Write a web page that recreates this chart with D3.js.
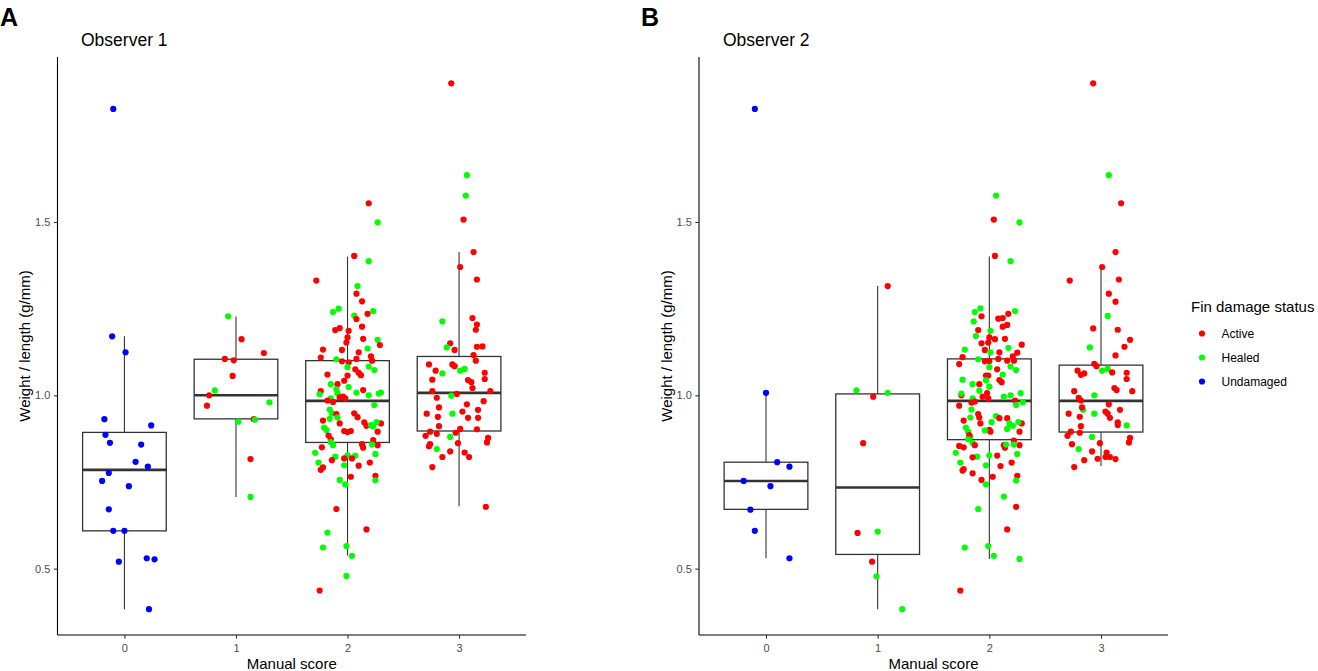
<!DOCTYPE html>
<html><head><meta charset="utf-8">
<script src="https://cdn.jsdelivr.net/npm/d3@7"></script>
<style>
html,body{margin:0;padding:0;background:#fff;}
text{font-family:"Liberation Sans",Arial,sans-serif;}
</style></head>
<body><svg id="chart" width="1318" height="671"></svg>
<script>
// ---------- data ----------
const scores = ["0","1","2","3"];
const yTicks = [0.5, 1.0, 1.5];
const statusNames = ["Active","Healed","Undamaged"];
const statusCodes = ["A","H","U"];
const statusColors = ["#FF0000","#00FF00","#0000FF"];
const panelLetters = ["A","B"];
const panelTitles = ["Observer 1","Observer 2"];
const yLabel = "Weight / length (g/mm)";
const xLabel = "Manual score";
const legendTitle = "Fin damage status";

// box statistics [score, lowerWhisker, q1, median, q3, upperWhisker]
const obs1Box = [
  [0,0.383,0.609,0.785,0.893,1.170],
  [1,0.707,0.932,1.000,1.104,1.227],
  [2,0.538,0.864,0.984,1.100,1.400],
  [3,0.680,0.897,1.007,1.112,1.413]
];
const obs2Box = [
  [0,0.530,0.671,0.753,0.807,1.007],
  [1,0.383,0.541,0.734,1.004,1.315],
  [2,0.528,0.872,0.984,1.105,1.400],
  [3,0.796,0.894,0.984,1.087,1.371]
];

// points [score, status, value, jitter (score units)]
const obs1Points = [
[0,"U",1.826,-0.10],[0,"U",1.170,-0.11],[0,"U",1.124,0.01],[0,"U",0.931,-0.18],[0,"U",0.913,0.24],
[0,"U",0.886,-0.17],[0,"U",0.863,-0.13],[0,"U",0.858,0.15],[0,"U",0.808,0.10],[0,"U",0.794,0.21],
[0,"U",0.776,-0.14],[0,"U",0.753,-0.20],[0,"U",0.738,0.04],[0,"U",0.671,-0.14],[0,"U",0.609,-0.10],
[0,"U",0.609,0.00],[0,"U",0.520,-0.05],[0,"U",0.530,0.20],[0,"U",0.527,0.27],[0,"U",0.383,0.22],
[1,"H",1.228,-0.07],[1,"A",1.162,0.05],[1,"A",1.122,0.25],[1,"A",1.105,-0.10],[1,"A",1.101,-0.02],
[1,"A",1.056,-0.03],[1,"H",1.014,-0.19],[1,"A",1.000,-0.24],[1,"A",0.970,-0.26],[1,"H",0.980,0.30],
[1,"H",0.924,0.02],[1,"A",0.931,0.16],[1,"H",0.930,0.17],[1,"A",0.816,0.13],[1,"H",0.707,0.13],
[2,"A",1.554,0.19],[2,"H",1.499,0.27],[2,"A",1.402,0.06],[2,"H",1.387,0.19],[2,"A",1.331,-0.28],
[2,"H",1.315,0.09],[2,"A",1.293,0.08],[2,"A",1.271,0.13],[2,"H",1.243,0.23],[2,"A",1.235,0.18],
[2,"H",1.240,-0.13],[2,"H",1.250,-0.08],[2,"H",1.230,0.06],[2,"A",1.220,0.08],[2,"A",1.198,0.13],
[2,"A",1.194,-0.07],[2,"A",1.188,-0.11],[2,"A",1.186,0.01],[2,"A",1.167,0.00],[2,"A",1.163,0.14],
[2,"A",1.152,-0.01],[2,"H",1.160,0.27],[2,"A",1.145,0.29],[2,"H",1.135,0.18],[2,"A",1.132,-0.22],
[2,"A",1.131,-0.05],[2,"A",1.124,0.10],[2,"A",1.109,-0.24],[2,"A",1.112,0.21],[2,"A",1.100,0.22],
[2,"A",1.105,0.08],[2,"H",1.104,-0.10],[2,"A",1.095,0.01],[2,"A",1.098,-0.05],[2,"H",1.081,0.00],
[2,"H",1.083,0.19],[2,"H",1.073,0.24],[2,"A",1.075,0.07],[2,"A",1.065,0.10],[2,"A",1.058,0.12],
[2,"A",1.060,-0.18],[2,"A",1.057,0.00],[2,"A",1.042,-0.03],[2,"H",1.032,-0.15],[2,"A",1.032,-0.09],
[2,"H",1.024,0.01],[2,"A",1.012,-0.24],[2,"H",1.003,-0.25],[2,"H",1.017,-0.10],[2,"H",1.006,-0.09],
[2,"A",1.015,0.14],[2,"H",1.008,0.08],[2,"H",1.000,0.19],[2,"H",1.005,0.28],[2,"H",1.008,0.30],
[2,"A",0.994,-0.07],[2,"A",0.996,-0.04],[2,"A",0.991,-0.02],[2,"H",0.991,-0.15],[2,"A",0.985,-0.18],
[2,"A",0.981,-0.13],[2,"H",0.972,0.24],[2,"H",0.959,-0.16],[2,"H",0.948,-0.14],[2,"A",0.946,-0.10],
[2,"A",0.948,0.06],[2,"A",0.937,0.09],[2,"A",0.927,-0.22],[2,"H",0.932,-0.16],[2,"H",0.936,-0.09],
[2,"A",0.919,-0.07],[2,"A",0.922,0.15],[2,"A",0.912,0.17],[2,"H",0.914,0.21],[2,"H",0.910,0.23],
[2,"A",0.919,0.30],[2,"H",0.923,0.26],[2,"H",0.907,-0.21],[2,"H",0.900,-0.19],[2,"A",0.897,-0.03],
[2,"A",0.894,0.00],[2,"A",0.897,0.03],[2,"A",0.895,0.27],[2,"A",0.884,-0.17],[2,"A",0.873,-0.15],
[2,"H",0.865,-0.15],[2,"H",0.856,-0.13],[2,"A",0.871,0.23],[2,"A",0.856,0.27],[2,"A",0.859,0.13],
[2,"A",0.849,0.14],[2,"H",0.858,0.22],[2,"A",0.850,-0.23],[2,"H",0.834,-0.29],[2,"H",0.827,0.00],
[2,"H",0.826,0.07],[2,"H",0.823,-0.11],[2,"A",0.818,-0.03],[2,"A",0.818,0.04],[2,"A",0.813,-0.14],
[2,"H",0.831,0.25],[2,"H",0.806,-0.26],[2,"H",0.798,-0.03],[2,"A",0.797,0.10],[2,"A",0.806,0.20],
[2,"A",0.792,-0.22],[2,"A",0.785,-0.24],[2,"A",0.765,0.03],[2,"A",0.768,0.25],[2,"H",0.755,0.25],
[2,"H",0.756,-0.07],[2,"H",0.743,-0.02],[2,"A",0.672,-0.10],[2,"A",0.613,0.17],[2,"H",0.604,-0.18],
[2,"H",0.561,-0.22],[2,"H",0.565,-0.01],[2,"H",0.537,0.04],[2,"H",0.479,-0.01],[2,"A",0.437,-0.25],
[3,"A",1.900,-0.07],[3,"H",1.635,0.07],[3,"H",1.576,0.06],[3,"A",1.507,0.04],[3,"A",1.413,0.13],
[3,"A",1.370,0.01],[3,"A",1.334,0.16],[3,"H",1.213,-0.15],[3,"A",1.223,0.12],[3,"A",1.204,0.16],
[3,"A",1.189,0.15],[3,"A",1.150,-0.08],[3,"H",1.138,-0.11],[3,"A",1.131,-0.04],[3,"A",1.140,0.16],
[3,"A",1.141,0.21],[3,"A",1.116,0.13],[3,"A",1.100,0.15],[3,"A",1.089,-0.27],[3,"A",1.089,-0.06],
[3,"A",1.084,-0.04],[3,"A",1.071,-0.21],[3,"H",1.063,-0.15],[3,"H",1.071,0.01],[3,"H",1.076,0.05],
[3,"A",1.065,0.23],[3,"A",1.047,0.23],[3,"A",1.045,-0.24],[3,"A",1.044,0.08],[3,"A",1.038,0.11],
[3,"A",1.021,0.12],[3,"A",1.012,-0.24],[3,"A",1.004,-0.02],[3,"A",1.012,0.28],[3,"H",0.999,-0.07],
[3,"A",0.993,-0.20],[3,"A",0.983,0.22],[3,"A",0.974,0.07],[3,"A",0.965,-0.18],[3,"A",0.958,0.17],
[3,"A",0.953,0.03],[3,"A",0.947,-0.29],[3,"H",0.947,-0.06],[3,"A",0.938,-0.19],[3,"A",0.935,0.08],
[3,"A",0.935,0.17],[3,"A",0.911,-0.18],[3,"A",0.903,0.01],[3,"A",0.902,0.16],[3,"A",0.895,-0.26],
[3,"A",0.889,-0.20],[3,"A",0.892,-0.03],[3,"A",0.883,-0.30],[3,"H",0.880,-0.08],[3,"A",0.877,0.26],
[3,"A",0.864,0.25],[3,"A",0.862,-0.01],[3,"A",0.859,-0.26],[3,"A",0.853,-0.27],[3,"H",0.845,-0.20],
[3,"A",0.838,-0.08],[3,"A",0.835,0.05],[3,"A",0.822,-0.15],[3,"A",0.822,0.09],[3,"A",0.793,-0.24],
[3,"A",0.678,0.24]
];

const obs2Points = [
[0,"U",1.826,-0.10],[0,"U",1.007,0.00],[0,"U",0.807,0.10],[0,"U",0.794,0.21],[0,"U",0.753,-0.20],
[0,"U",0.738,0.04],[0,"U",0.670,-0.14],[0,"U",0.609,-0.10],[0,"U",0.530,0.21],
[1,"A",1.315,0.09],[1,"H",1.014,-0.19],[1,"H",1.007,0.09],[1,"A",0.996,-0.04],[1,"A",0.862,-0.13],
[1,"A",0.603,-0.18],[1,"H",0.607,0.00],[1,"A",0.520,-0.05],[1,"H",0.478,-0.01],[1,"H",0.383,0.22],
[2,"H",1.576,0.06],[2,"A",1.507,0.04],[2,"H",1.499,0.27],[2,"A",1.402,0.05],[2,"H",1.387,0.19],
[2,"H",1.251,-0.08],[2,"H",1.240,-0.13],[2,"A",1.228,-0.07],[2,"H",1.243,0.23],[2,"A",1.235,0.17],
[2,"H",1.213,-0.14],[2,"A",1.221,0.08],[2,"A",1.223,0.12],[2,"A",1.203,0.16],[2,"A",1.198,0.12],
[2,"A",1.188,-0.10],[2,"H",1.186,0.01],[2,"A",1.167,0.00],[2,"H",1.171,-0.12],[2,"A",1.162,0.05],
[2,"A",1.163,0.14],[2,"A",1.150,-0.07],[2,"A",1.152,-0.01],[2,"A",1.146,0.29],[2,"H",1.137,0.17],
[2,"H",1.132,-0.22],[2,"A",1.131,-0.04],[2,"A",1.124,0.09],[2,"H",1.124,0.01],[2,"A",1.123,0.25],
[2,"A",1.110,-0.24],[2,"A",1.112,0.21],[2,"A",1.100,0.22],[2,"H",1.104,-0.10],[2,"A",1.098,-0.04],
[2,"A",1.099,0.00],[2,"A",1.105,0.08],[2,"A",1.100,0.16],[2,"A",1.090,-0.27],[2,"H",1.081,0.00],
[2,"H",1.083,0.19],[2,"H",1.073,0.24],[2,"A",1.075,0.07],[2,"A",1.057,-0.01],[2,"A",1.057,-0.03],
[2,"H",1.060,0.12],[2,"A",1.044,0.09],[2,"A",1.038,0.11],[2,"H",1.045,-0.24],[2,"H",1.043,-0.03],
[2,"A",1.032,-0.09],[2,"H",1.032,-0.15],[2,"H",1.025,0.00],[2,"H",1.013,-0.09],[2,"A",1.000,-0.25],
[2,"H",1.005,-0.25],[2,"A",1.006,-0.02],[2,"A",0.996,-0.06],[2,"A",0.991,-0.01],[2,"H",0.991,-0.15],
[2,"A",0.982,-0.13],[2,"A",0.979,-0.16],[2,"H",0.996,0.13],[2,"H",1.000,0.19],[2,"H",1.006,0.28],
[2,"H",0.980,0.30],[2,"A",0.985,0.23],[2,"H",0.972,0.24],[2,"A",0.970,-0.27],[2,"H",0.959,-0.16],
[2,"A",0.946,-0.10],[2,"A",0.936,-0.09],[2,"H",0.936,-0.17],[2,"H",0.940,0.06],[2,"A",0.934,0.16],
[2,"A",0.934,0.09],[2,"A",0.927,-0.23],[2,"H",0.923,0.02],[2,"A",0.919,-0.08],[2,"H",0.919,0.18],
[2,"H",0.912,0.21],[2,"A",0.919,0.29],[2,"H",0.923,0.26],[2,"H",0.903,0.16],[2,"A",0.900,0.00],
[2,"A",0.895,0.01],[2,"H",0.899,-0.04],[2,"H",0.907,-0.21],[2,"H",0.895,-0.19],[2,"A",0.895,0.27],
[2,"H",0.881,-0.17],[2,"A",0.885,-0.18],[2,"H",0.873,-0.19],[2,"H",0.863,-0.15],[2,"A",0.856,-0.13],
[2,"A",0.869,0.22],[2,"A",0.856,0.27],[2,"A",0.856,0.13],[2,"A",0.849,0.14],[2,"H",0.858,0.22],
[2,"H",0.858,0.15],[2,"A",0.854,-0.27],[2,"A",0.850,-0.23],[2,"H",0.834,-0.30],[2,"H",0.827,0.00],
[2,"A",0.826,0.07],[2,"H",0.823,-0.11],[2,"A",0.821,-0.15],[2,"H",0.831,0.25],[2,"H",0.806,-0.26],
[2,"A",0.806,0.20],[2,"A",0.796,0.10],[2,"H",0.798,-0.03],[2,"A",0.775,-0.15],[2,"A",0.787,-0.23],
[2,"A",0.783,-0.24],[2,"A",0.765,0.03],[2,"A",0.768,0.25],[2,"A",0.756,-0.07],[2,"H",0.754,0.24],
[2,"H",0.743,-0.03],[2,"H",0.708,0.13],[2,"H",0.672,-0.10],[2,"A",0.678,0.24],[2,"A",0.613,0.16],
[2,"H",0.561,-0.22],[2,"H",0.565,-0.01],[2,"H",0.537,0.04],[2,"H",0.528,0.27],[2,"A",0.437,-0.26],
[3,"A",1.900,-0.07],[3,"H",1.635,0.07],[3,"A",1.554,0.18],[3,"A",1.413,0.13],[3,"A",1.370,0.01],
[3,"A",1.331,-0.28],[3,"A",1.334,0.16],[3,"A",1.293,0.07],[3,"A",1.270,0.13],[3,"H",1.229,0.06],
[3,"A",1.193,-0.07],[3,"A",1.189,0.15],[3,"A",1.160,0.26],[3,"A",1.140,0.21],[3,"H",1.138,-0.10],
[3,"A",1.115,0.13],[3,"A",1.091,-0.06],[3,"A",1.084,-0.04],[3,"H",1.071,0.01],[3,"H",1.076,0.06],
[3,"A",1.071,-0.21],[3,"A",1.059,-0.18],[3,"A",1.063,-0.15],[3,"A",1.066,0.10],[3,"A",1.065,0.23],
[3,"A",1.047,0.23],[3,"A",1.021,0.12],[3,"A",1.015,0.14],[3,"A",1.012,-0.24],[3,"A",1.012,0.28],
[3,"H",1.000,-0.06],[3,"A",0.993,-0.20],[3,"A",0.985,-0.18],[3,"A",0.974,0.07],[3,"H",0.958,-0.16],
[3,"A",0.965,-0.17],[3,"A",0.958,0.17],[3,"A",0.953,0.04],[3,"A",0.947,0.06],[3,"A",0.947,-0.29],
[3,"H",0.947,-0.06],[3,"A",0.938,-0.19],[3,"A",0.935,0.08],[3,"A",0.922,0.15],[3,"A",0.914,0.15],
[3,"H",0.913,0.23],[3,"A",0.911,-0.18],[3,"A",0.895,-0.27],[3,"A",0.892,-0.19],[3,"A",0.883,-0.30],
[3,"H",0.880,-0.08],[3,"A",0.877,0.26],[3,"A",0.864,0.25],[3,"A",0.862,-0.01],[3,"A",0.859,-0.26],
[3,"H",0.845,-0.20],[3,"A",0.838,-0.08],[3,"A",0.835,0.05],[3,"A",0.817,-0.03],[3,"A",0.822,0.04],
[3,"A",0.822,0.08],[3,"A",0.816,0.13],[3,"A",0.813,-0.15],[3,"A",0.793,-0.24]
];

// ---------- drawing ----------
const svg = d3.select("#chart");
const color = d3.scaleOrdinal().domain(statusCodes).range(statusColors);
const plotTop = 57, plotBottom = 635;
const y = d3.scaleLinear().domain([0.3086, 1.9758]).range([plotBottom, plotTop]);
const panels = [
  {left: 57.5, right: 526, pts: obs1Points, box: obs1Box, letterX: 0, titleX: 81, ylabX: 30},
  {left: 699, right: 1168, pts: obs2Points, box: obs2Box, letterX: 641, titleX: 723, ylabX: 671.5}
];

panels.forEach((p, i) => {
  const x = d3.scalePoint().domain(scores).range([p.left, p.right]).padding(0.6);
  const step = x.step();
  const g = svg.append("g");

  // boxes
  const bw = step * 0.75;
  const bg = g.append("g");
  p.box.forEach(b => {
    const cx = x(scores[b[0]]);
    bg.append("line").attr("x1", cx).attr("x2", cx).attr("y1", y(b[5])).attr("y2", y(b[4]))
      .attr("stroke", "#333").attr("stroke-width", 1.1);
    bg.append("line").attr("x1", cx).attr("x2", cx).attr("y1", y(b[2])).attr("y2", y(b[1]))
      .attr("stroke", "#333").attr("stroke-width", 1.1);
    bg.append("rect").attr("x", cx - bw/2).attr("width", bw)
      .attr("y", y(b[4])).attr("height", y(b[2]) - y(b[4]))
      .attr("fill", "#fff").attr("stroke", "#333").attr("stroke-width", 1.3);
    bg.append("line").attr("x1", cx - bw/2).attr("x2", cx + bw/2).attr("y1", y(b[3])).attr("y2", y(b[3]))
      .attr("stroke", "#333").attr("stroke-width", 2.6);
  });

  // points
  g.append("g").selectAll("circle").data(p.pts).join("circle")
    .attr("cx", d => x(scores[d[0]]) + d[3] * step)
    .attr("cy", d => y(d[2]))
    .attr("r", 3.1)
    .attr("fill", d => color(d[1]));

  // axes
  const ya = g.append("g").attr("transform", `translate(${p.left},0)`)
    .call(d3.axisLeft(y).tickValues(yTicks).tickFormat(d3.format(".1f")).tickSize(3.7).tickPadding(3.5));
  ya.select(".domain").attr("d", `M0,${plotTop}V${plotBottom}`).attr("stroke", "#000").attr("stroke-width", 1.1);
  ya.selectAll(".tick line").attr("stroke", "#333").attr("stroke-width", 1.1);
  ya.selectAll(".tick text").attr("fill", "#4d4d4d").style("font-size", "11px")
    .style("font-family", "'Liberation Sans',Arial,sans-serif");

  const xa = g.append("g").attr("transform", `translate(0,${plotBottom})`)
    .call(d3.axisBottom(x).tickSize(3.7).tickPadding(5));
  xa.select(".domain").attr("d", `M${p.left},0H${p.right}`).attr("stroke", "#000").attr("stroke-width", 1.1);
  xa.selectAll(".tick line").attr("stroke", "#333").attr("stroke-width", 1.1);
  xa.selectAll(".tick text").attr("fill", "#4d4d4d").style("font-size", "11px")
    .style("font-family", "'Liberation Sans',Arial,sans-serif");

  // labels
  svg.append("text").attr("x", p.letterX).attr("y", 26).text(panelLetters[i])
    .style("font-size", "25px").style("font-weight", "bold").attr("fill", "#000");
  svg.append("text").attr("x", p.titleX).attr("y", 46).text(panelTitles[i])
    .style("font-size", "17.5px").attr("fill", "#000");
  svg.append("text").attr("transform", `translate(${p.ylabX},346) rotate(-90)`)
    .attr("text-anchor", "middle").text(yLabel)
    .style("font-size", "15px").attr("fill", "#000");
  svg.append("text").attr("x", (p.left + p.right)/2).attr("y", 669)
    .attr("text-anchor", "middle").text(xLabel)
    .style("font-size", "15px").attr("fill", "#000");
});

// legend
const lg = svg.append("g");
lg.append("text").attr("x", 1191).attr("y", 312).text(legendTitle)
  .style("font-size", "15px").attr("fill", "#000");
statusCodes.forEach((c, i) => {
  lg.append("circle").attr("cx", 1202).attr("cy", 333.5 + i * 24).attr("r", 3.1).attr("fill", color(c));
  lg.append("text").attr("x", 1221.5).attr("y", 333.5 + i * 24).attr("dy", "0.35em").text(statusNames[i])
    .style("font-size", "12px").attr("fill", "#000");
});
</script></body></html>
